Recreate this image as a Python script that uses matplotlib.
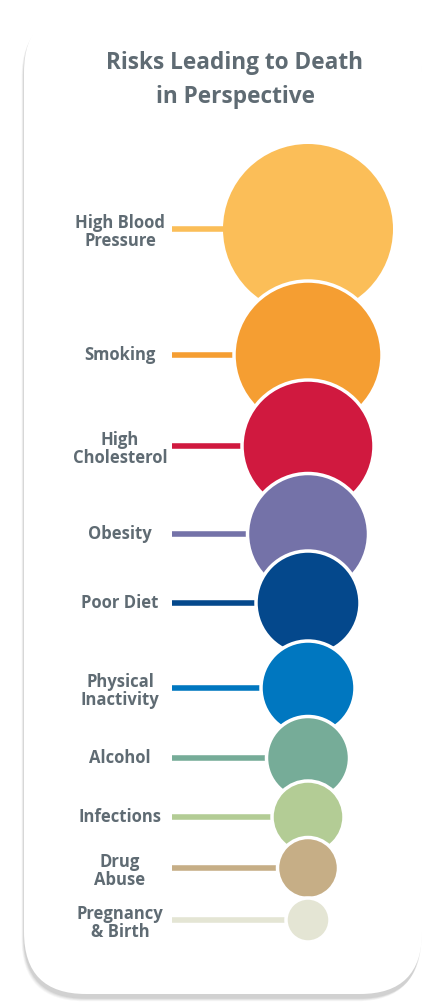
#!/usr/bin/env python3
# Risks leading to death, drawn as a column of overlapping circles on a card.
# Output: out.png (424x1002)

import matplotlib
matplotlib.use("Agg")
import matplotlib.pyplot as plt
from matplotlib.patches import Circle, FancyBboxPatch

# === Data ===
risks = ["High Blood\nPressure", "Smoking", "High\nCholesterol", "Obesity",
         "Poor Diet", "Physical\nInactivity", "Alcohol", "Infections",
         "Drug\nAbuse", "Pregnancy\n& Birth"]
risk_size = [85, 74, 66, 60.5, 52, 47, 41.5, 36, 30.5, 22]
colors = ["#FBBE58", "#F59E32", "#D0193F", "#7472A8", "#04488C",
          "#0077C0", "#76AC98", "#B3CC95", "#C6AE86", "#E4E5D4"]

# row centres (pixels from top) and horizontal layout
row_y = [229, 355, 446, 534, 603, 688, 758, 817, 868, 920]
circle_x = 308
label_x = 120
stem_x0 = 172

TEXT_GRAY = "#5F6B73"
FONT = ["Open Sans", "DejaVu Sans"]

fig = plt.figure(figsize=(4.24, 10.02), dpi=100)
ax = fig.add_axes([0, 0, 1, 1])
ax.set_xlim(0, 424)
ax.set_ylim(1002, 0)
ax.axis("off")

# === Card with a soft shadow ===
for i, a in enumerate([0.05, 0.06, 0.08, 0.10]):
    off = 4 - i
    ax.add_patch(FancyBboxPatch((24 - off * 0.6, 12 + off * 0.8), 398, 986,
                                boxstyle="round,pad=0,rounding_size=62",
                                fc="#555555", ec="none", alpha=a, zorder=0))
ax.add_patch(FancyBboxPatch((24, 10), 398, 984,
                            boxstyle="round,pad=0,rounding_size=62",
                            fc="white", ec="none", zorder=1))

# === Title ===
ax.text(235, 63, "Risks Leading to Death", ha="center", va="center",
        fontsize=16.3, fontweight="bold", color=TEXT_GRAY, family=FONT, zorder=5)
ax.text(235, 97, "in Perspective", ha="center", va="center",
        fontsize=16.3, fontweight="bold", color=TEXT_GRAY, family=FONT, zorder=5)

# === Circles, stems and labels ===
for k, (name, size, col, y) in enumerate(zip(risks, risk_size, colors, row_y)):
    z = 2 + k
    ax.plot([stem_x0, circle_x], [y, y], color=col, lw=4.0,
            solid_capstyle="butt", zorder=z)
    ax.add_patch(Circle((circle_x, y), size, fc=col,
                        ec="white" if k > 0 else "none", lw=2.5, zorder=z + 0.5))
    ax.text(label_x, y + (3 if "\n" in name else 0), name, ha="center",
            va="center", fontsize=12, fontweight="bold", color=TEXT_GRAY,
            family=FONT, linespacing=0.95, zorder=20)

fig.savefig("out.png", dpi=100)
plt.close(fig)
